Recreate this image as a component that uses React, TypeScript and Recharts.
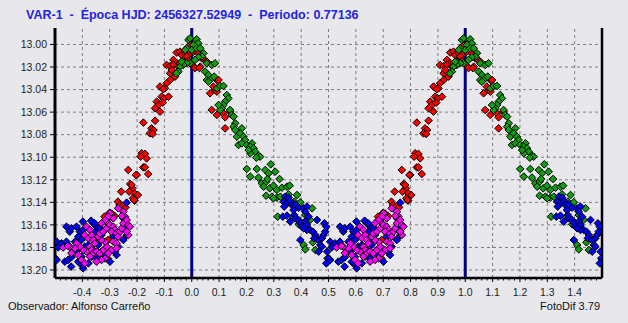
import React from 'react';
import { ScatterChart, Scatter, XAxis, YAxis, ReferenceLine } from 'recharts';

// Phase (one cycle, 0.5..1.5) and magnitude for each observing night
const redPoints: [number, number][] = [
  [0.945, 13.0072], [0.957, 13.0064], [0.933, 13.0137], [0.945, 13.0167], [0.963, 13.0093], [0.976, 13.0078],
  [0.988, 13.0093], [0.982, 13.0137], [0.969, 13.0152], [0.908, 13.0182], [0.921, 13.0191], [0.933, 13.0182],
  [0.951, 13.0197], [0.957, 13.0167], [0.921, 13.0256], [0.927, 13.0226], [0.939, 13.0285], [0.921, 13.0315],
  [0.908, 13.0344], [0.884, 13.0374], [0.902, 13.0389], [0.896, 13.0397], [0.890, 13.0463], [0.899, 13.0478],
  [0.915, 13.0463], [0.872, 13.0507], [0.878, 13.0537], [0.866, 13.0566], [0.884, 13.0596], [0.894, 13.0516],
  [0.823, 13.0693], [0.866, 13.0676], [0.853, 13.0744], [0.860, 13.0759], [0.847, 13.0788], [0.857, 13.0794],
  [0.817, 13.0965], [0.829, 13.0971], [0.835, 13.1010], [0.813, 13.0995], [0.823, 13.1090], [0.829, 13.1090],
  [0.841, 13.1149], [0.799, 13.1157], [0.768, 13.1113],
  [0.994, 13.0004], [1.012, 13.0019], [1.006, 13.0064], [1.024, 13.0078], [1.037, 13.0123], [1.049, 13.0143],
  [1.055, 13.0152], [1.031, 13.0197], [1.006, 13.0191], [1.092, 13.0315], [1.098, 13.0315], [1.067, 13.0433],
  [1.085, 13.0404], [1.079, 13.0374], [1.092, 13.0418], [1.073, 13.0581], [1.092, 13.0625], [1.116, 13.0611],
  [1.122, 13.0646], [1.140, 13.0596], [1.122, 13.0744], [0.982, 13.0105], [0.988, 13.0149], [1.018, 13.0031],
  [1.012, 13.0209], [1.028, 13.0209],
  [0.775, 13.1237], [0.783, 13.1276], [0.742, 13.1305], [0.771, 13.1305], [0.791, 13.1320], [0.803, 13.1335],
  [0.785, 13.1364], [0.791, 13.1385], [0.730, 13.1394], [0.736, 13.1424], [0.749, 13.1432], [0.758, 13.1444],
  [0.700, 13.1492], [0.681, 13.1527], [0.718, 13.1521], [0.663, 13.1630], [0.694, 13.1900], [0.694, 13.1734],
  [0.689, 13.1556], [0.707, 13.1500], [0.796, 13.1157], [0.673, 13.1645], [0.780, 13.1246], [0.789, 13.1379],
];

const greenPoints: [number, number][] = [
  [0.988, 12.9960], [0.994, 12.9945], [1.018, 12.9954], [1.024, 12.9990], [1.006, 13.0004], [0.982, 13.0034],
  [0.976, 13.0049], [1.000, 13.0049], [1.018, 13.0034], [1.031, 13.0034], [1.043, 13.0078], [1.037, 13.0108],
  [1.024, 13.0114], [1.012, 13.0137], [0.994, 13.0167], [0.982, 13.0167], [0.969, 13.0182], [0.957, 13.0197],
  [0.951, 13.0241], [0.963, 13.0152], [0.944, 13.0256],
  [1.055, 13.0167], [1.073, 13.0182], [1.085, 13.0167], [1.049, 13.0241], [1.061, 13.0271], [1.055, 13.0315],
  [1.073, 13.0300], [1.082, 13.0285], [1.061, 13.0330], [1.092, 13.0389], [1.104, 13.0368], [1.116, 13.0368],
  [1.128, 13.0448], [1.134, 13.0478], [1.122, 13.0507], [1.116, 13.0537], [1.110, 13.0566], [1.104, 13.0581],
  [1.098, 13.0537], [1.140, 13.0581], [1.146, 13.0625], [1.153, 13.0640], [1.159, 13.0699], [1.153, 13.0729],
  [1.183, 13.0744], [1.165, 13.0818], [1.177, 13.0788], [1.189, 13.0818], [1.195, 13.0847], [1.171, 13.0891],
  [1.183, 13.0877], [1.201, 13.0891], [1.220, 13.0877], [1.214, 13.0906], [1.226, 13.0921], [1.232, 13.0951],
  [1.244, 13.0989], [1.250, 13.0995], [1.214, 13.0965], [1.159, 13.0758], [1.208, 13.0936],
  [1.236, 13.1004], [1.289, 13.1063], [1.201, 13.1104], [1.238, 13.1104], [1.269, 13.1113], [1.281, 13.1143],
  [1.305, 13.1128], [1.214, 13.1172], [1.244, 13.1181], [1.256, 13.1231], [1.272, 13.1217], [1.277, 13.1193],
  [1.321, 13.1193], [1.263, 13.1261], [1.285, 13.1276], [1.299, 13.1252], [1.311, 13.1290], [1.330, 13.1270],
  [1.348, 13.1261], [1.358, 13.1252], [1.272, 13.1341], [1.293, 13.1350], [1.311, 13.1358], [1.324, 13.1350],
  [1.299, 13.1364], [1.354, 13.1329], [1.385, 13.1335], [1.375, 13.1394], [1.397, 13.1400], [1.440, 13.1453],
  [1.314, 13.1527], [1.372, 13.1527], [1.415, 13.1512], [1.433, 13.1556], [1.443, 13.1755], [1.409, 13.1778],
  [1.415, 13.1817], [1.452, 13.1823], [1.391, 13.1595],
];

const bluePoints: [number, number][] = [
  [1.342, 13.1350], [1.354, 13.1358], [1.336, 13.1394], [1.348, 13.1409], [1.360, 13.1388], [1.366, 13.1423],
  [1.378, 13.1418], [1.391, 13.1447], [1.409, 13.1453], [1.421, 13.1438], [1.415, 13.1483], [1.338, 13.1438],
  [1.333, 13.1527], [1.348, 13.1518], [1.360, 13.1571], [1.375, 13.1512], [1.378, 13.1542], [1.391, 13.1556],
  [1.397, 13.1586], [1.403, 13.1616], [1.415, 13.1571], [1.421, 13.1601], [1.427, 13.1527], [1.433, 13.1645],
  [1.443, 13.1660], [1.452, 13.1690], [1.458, 13.1556], [1.448, 13.1719], [1.464, 13.1734], [1.476, 13.1719],
  [1.482, 13.1690], [1.488, 13.1660], [1.485, 13.1586], [1.492, 13.1616], [1.470, 13.1778], [1.476, 13.1793],
  [1.464, 13.1837], [1.397, 13.1734], [1.421, 13.1645], [1.409, 13.1630], [1.495, 13.1837], [1.497, 13.1897],
  [1.492, 13.1941], [1.372, 13.1468],
  [0.506, 13.1749], [0.518, 13.1778], [0.530, 13.1793], [0.524, 13.1764], [0.512, 13.1799], [0.501, 13.1897],
  [0.506, 13.1911], [0.536, 13.1926], [0.548, 13.1911], [0.560, 13.1887], [0.542, 13.1616], [0.554, 13.1660],
  [0.560, 13.1630], [0.579, 13.1616], [0.591, 13.1660], [0.603, 13.1645], [0.585, 13.1704], [0.597, 13.1734],
  [0.573, 13.1749], [0.542, 13.1749], [0.567, 13.1823], [0.579, 13.1837], [0.591, 13.1941], [0.603, 13.1985],
  [0.622, 13.1941], [0.597, 13.1882], [0.585, 13.1926], [0.640, 13.1586], [0.646, 13.1660], [0.652, 13.1616],
  [0.664, 13.1630], [0.670, 13.1690], [0.652, 13.1719], [0.658, 13.1778], [0.670, 13.1837], [0.640, 13.1823],
  [0.634, 13.1882], [0.652, 13.1897], [0.683, 13.1867], [0.701, 13.1926], [0.725, 13.1867], [0.719, 13.1837],
  [0.731, 13.1793], [0.713, 13.1704], [0.695, 13.1808], [0.750, 13.1734], [0.756, 13.1630], [0.762, 13.1690],
  [0.750, 13.1542], [0.762, 13.1403], [0.609, 13.1793], [0.622, 13.1778], [0.602, 13.1571], [0.632, 13.1563],
  [0.645, 13.1586], [0.559, 13.1970],
];

const magentaPoints: [number, number][] = [
  [0.615, 13.1616], [0.628, 13.1645], [0.609, 13.1690], [0.622, 13.1719], [0.634, 13.1690], [0.640, 13.1734],
  [0.646, 13.1764], [0.628, 13.1793], [0.634, 13.1823], [0.615, 13.1837], [0.603, 13.1823], [0.591, 13.1793],
  [0.579, 13.1764], [0.573, 13.1808], [0.554, 13.1793], [0.585, 13.1867], [0.597, 13.1911], [0.609, 13.1941],
  [0.640, 13.1852], [0.652, 13.1837], [0.664, 13.1852], [0.677, 13.1823], [0.689, 13.1793], [0.683, 13.1749],
  [0.670, 13.1734], [0.658, 13.1704], [0.664, 13.1675], [0.677, 13.1660], [0.689, 13.1630], [0.695, 13.1586],
  [0.701, 13.1601], [0.713, 13.1616], [0.719, 13.1645], [0.707, 13.1660], [0.725, 13.1675], [0.731, 13.1704],
  [0.738, 13.1660], [0.744, 13.1630], [0.750, 13.1586], [0.756, 13.1527], [0.762, 13.1557], [0.768, 13.1601],
  [0.774, 13.1616], [0.768, 13.1690], [0.762, 13.1660], [0.713, 13.1749], [0.725, 13.1764], [0.707, 13.1823],
  [0.695, 13.1852], [0.683, 13.1897], [0.670, 13.1911], [0.652, 13.1926], [0.628, 13.1882], [0.725, 13.1808],
  [0.750, 13.1483], [0.744, 13.1521], [0.731, 13.1453], [0.701, 13.1497], [0.713, 13.1542], [0.695, 13.1527],
  [0.683, 13.1557], [0.670, 13.1586], [0.530, 13.1800], [0.547, 13.1787], [0.560, 13.1850],
];

const xMajorTicks = [-0.4, -0.3, -0.2, -0.1, 0.0, 0.1, 0.2, 0.3, 0.4, 0.5, 0.6, 0.7, 0.8, 0.9, 1.0, 1.1, 1.2, 1.3, 1.4];
const yTicks = [13.0, 13.02, 13.04, 13.06, 13.08, 13.1, 13.12, 13.14, 13.16, 13.18, 13.2];
const xDomain: [number, number] = [-0.5, 1.5];
const yDomain: [number, number] = [12.9854, 13.2071];
const epochLines = [0, 1];

const titleText = 'VAR-1  -  Época HJD: 2456327.52949  -  Periodo: 0.77136';
const observerText = 'Observador: Alfonso Carreño';
const softwareText = 'FotoDif 3.79';

// minor ticks every 0.02 along the phase axis
const xMinorTicks: number[] = [];
for (let k = -24; k <= 74; k++) xMinorTicks.push(k / 50);

// each observation is shown at its phase and one cycle earlier
const phaseFold = (pts: [number, number][]) => [
  ...pts.map(([p, m]) => ({ x: p, y: m })),
  ...pts.map(([p, m]) => ({ x: p - 1, y: m })),
];

const FONT = '"Liberation Sans", Arial, sans-serif';
const BG = '#e8e8ec';

const makeDiamond = (fill: string) => (props: any) => {
  const { cx, cy } = props;
  if (cx == null || cy == null) return <g />;
  const r = 3.8;
  return (
    <polygon
      points={`${cx},${cy - r} ${cx + r},${cy} ${cx},${cy + r} ${cx - r},${cy}`}
      fill={fill}
      stroke="#000"
      strokeWidth={1}
    />
  );
};

const XTick = (props: any) => {
  const { x, y, payload } = props;
  const v = payload.value as number;
  const i = Math.round(v * 50);
  const major = i % 5 === 0;
  return (
    <g>
      <line x1={x} x2={x} y1={y} y2={y + (major ? 4 : 2.5)} stroke="#000" strokeWidth={1} />
      {major && (
        <text x={x} y={y + 18} textAnchor="middle" fontSize={10.5} fontFamily={FONT} fill="#222">
          {(i / 50).toFixed(1)}
        </text>
      )}
    </g>
  );
};

export default function App() {
  return (
    <div style={{ position: 'absolute', left: 0, top: 0, width: 628, height: 323, background: BG, overflow: 'hidden' }}>
      <ScatterChart width={628} height={323} margin={{ top: 28, right: 26, bottom: 15, left: 8 }}>
        <XAxis
          type="number"
          dataKey="x"
          domain={xDomain}
          allowDataOverflow
          ticks={xMinorTicks}
          interval={0}
          tick={<XTick />}
          tickLine={false}
          tickSize={0}
          tickMargin={0}
          axisLine={{ stroke: '#000', strokeWidth: 2.5 }}
          height={30}
        />
        <YAxis
          type="number"
          dataKey="y"
          domain={yDomain}
          allowDataOverflow
          reversed
          ticks={yTicks}
          interval={0}
          tickFormatter={(v: number) => v.toFixed(2)}
          width={47}
          tickSize={5}
          tickMargin={3}
          axisLine={{ stroke: '#000', strokeWidth: 3 }}
          tickLine={{ stroke: '#000' }}
          tick={{ fontSize: 10.5, fontFamily: FONT, fill: '#222' }}
        />
        {yTicks.map((t) => (
          <ReferenceLine key={'gy' + t} y={t} stroke="#7c7c7c" strokeDasharray="3 3" strokeWidth={1} />
        ))}
        {xMajorTicks.map((t) => (
          <ReferenceLine key={'gx' + t} x={t} stroke="#7c7c7c" strokeDasharray="3 3" strokeWidth={1} />
        ))}
        <Scatter data={phaseFold(redPoints)} isAnimationActive={false} shape={makeDiamond('#ff0000')} />
        <Scatter data={phaseFold(greenPoints)} isAnimationActive={false} shape={makeDiamond('#109e10')} />
        <Scatter data={phaseFold(bluePoints)} isAnimationActive={false} shape={makeDiamond('#0000ff')} />
        <Scatter data={phaseFold(magentaPoints)} isAnimationActive={false} shape={makeDiamond('#ff00ff')} />
        {epochLines.map((e) => (
          <ReferenceLine key={'ep' + e} x={e} stroke="#000080" strokeWidth={3} />
        ))}
        <ReferenceLine x={xDomain[1]} stroke="#000" strokeWidth={2.5} />
      </ScatterChart>
      <svg width={628} height={323} style={{ position: 'absolute', left: 0, top: 0, pointerEvents: 'none' }}>
        <text x={26} y={18.5} xmlSpace="preserve" fontSize={12.5} fontWeight="bold" fontFamily={FONT} fill="#2323e0">
          {titleText}
        </text>
        <text x={8} y={310} fontSize={11} fontFamily={FONT} fill="#111">
          {observerText}
        </text>
        <text x={600} y={310} textAnchor="end" fontSize={11} fontFamily={FONT} fill="#111">
          {softwareText}
        </text>
      </svg>
    </div>
  );
}
